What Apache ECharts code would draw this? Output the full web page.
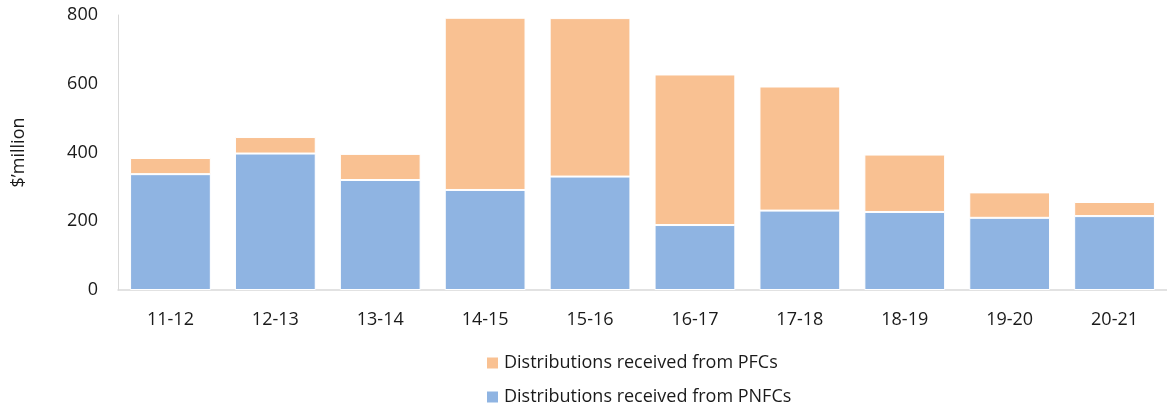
<!DOCTYPE html>
<html>
<head>
<meta charset="utf-8">
<script src="https://cdn.jsdelivr.net/npm/echarts@6/dist/echarts.min.js"></script>
<style>
  html, body { margin: 0; padding: 0; background: #fff; }
  #chart { width: 1167px; height: 409px; }
</style>
</head>
<body>
<div id="chart"></div>
<script>
// Financial years
const years = ['11-12', '12-13', '13-14', '14-15', '15-16', '16-17', '17-18', '18-19', '19-20', '20-21'];
// Distributions received from public non-financial corporations ($'million)
const pnfc = [337, 397, 320, 291, 330, 189, 231, 227, 210, 215];
// Distributions received from public financial corporations ($'million)
const pfc = [47, 48, 76, 501, 461, 438, 361, 167, 74, 41];
// Value-axis tick settings
const yMin = 0, yMax = 800, yStep = 200;

const NAME_PFC = 'Distributions received from PFCs';
const NAME_PNFC = 'Distributions received from PNFCs';

const FONT = 'Open Sans, Noto Sans, sans-serif';
const TXT = '#1a1a1a';

// one legend block per row, stacked vertically
function legendRow(name, top) {
  return {
    left: 480,
    top: top,
    itemWidth: 13,
    itemHeight: 13,
    icon: 'rect',
    itemGap: 0,
    textStyle: { fontFamily: FONT, fontSize: 18, color: TXT },
    data: [name]
  };
}

const chart = echarts.init(document.getElementById('chart'), null, { renderer: 'canvas' });
chart.setOption({
  animation: false,
  textStyle: { fontFamily: FONT },
  grid: { left: 118, right: 0, top: 15, bottom: 119, containLabel: false },
  legend: [legendRow(NAME_PFC, 349), legendRow(NAME_PNFC, 383)],
  xAxis: {
    type: 'category',
    data: years,
    axisLine: { lineStyle: { color: '#d9d9d9', width: 1.5 } },
    axisTick: { show: false },
    axisLabel: { color: TXT, fontSize: 18, fontFamily: FONT, margin: 21 }
  },
  yAxis: {
    type: 'value',
    min: yMin, max: yMax, interval: yStep,
    name: '$\u2019million',
    nameLocation: 'middle',
    nameGap: 90,
    nameRotate: 90,
    nameTextStyle: { color: TXT, fontSize: 18, fontFamily: FONT },
    axisLine: { show: true, lineStyle: { color: '#d9d9d9', width: 1 } },
    axisTick: { show: false },
    splitLine: { show: false },
    axisLabel: { color: TXT, fontSize: 18, fontFamily: FONT, margin: 20 }
  },
  series: [
    {
      name: NAME_PNFC,
      type: 'bar',
      stack: 'total',
      data: pnfc,
      barCategoryGap: '23%',
      itemStyle: { color: '#8FB4E2', borderColor: '#ffffff', borderWidth: 1 }
    },
    {
      name: NAME_PFC,
      type: 'bar',
      stack: 'total',
      data: pfc,
      barCategoryGap: '23%',
      itemStyle: { color: '#F9C192', borderColor: '#ffffff', borderWidth: 1 }
    }
  ]
});
</script>
</body>
</html>
